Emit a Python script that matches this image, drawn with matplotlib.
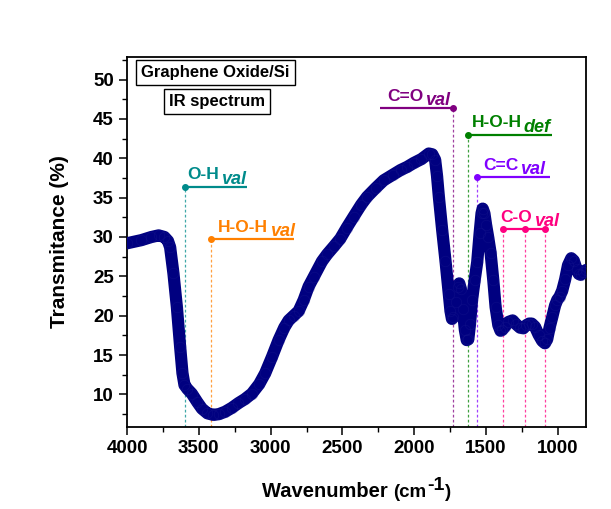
import matplotlib
matplotlib.use("Agg")
import matplotlib.pyplot as plt
from matplotlib.ticker import MultipleLocator

plt.rcParams['font.family'] = ['Liberation Sans', 'DejaVu Sans']
plt.rcParams['font.weight'] = 'bold'

# --- spectrum data (wavenumber cm-1, transmittance %) ---
wavenumber = [4000, 3900, 3830, 3780, 3740, 3715, 3700, 3677, 3653, 3630, 3614,
              3600, 3580, 3549, 3510, 3479, 3440, 3398, 3360, 3317, 3270, 3224,
              3180, 3131, 3080, 3038, 2990, 2945, 2905, 2875, 2840, 2805, 2770,
              2736, 2701, 2643, 2607, 2560, 2515, 2470, 2422, 2370, 2329, 2270,
              2213, 2150, 2096, 2050, 2004, 1950, 1899, 1875, 1855, 1842, 1829,
              1806, 1783, 1760, 1748, 1738, 1728, 1712, 1698, 1687, 1676, 1662,
              1648, 1635, 1624, 1612, 1598, 1580, 1562, 1545, 1532, 1524, 1512,
              1500, 1486, 1469, 1450, 1434, 1415, 1400, 1388, 1370, 1345, 1316,
              1290, 1265, 1241, 1220, 1200, 1183, 1160, 1135, 1110, 1091, 1075,
              1058, 1040, 1020, 1005, 989, 970, 950, 930, 907, 890, 870, 855,
              842, 825, 805]
transmittance = [29.2, 29.6, 30.0, 30.2, 30.0, 29.5, 28.7, 25.4, 21.1, 16.0, 12.7,
                 11.2, 10.7, 10.1, 9.0, 8.2, 7.6, 7.4, 7.5, 7.8, 8.3, 8.9,
                 9.4, 10.1, 11.3, 12.7, 14.8, 16.9, 18.5, 19.4, 20.0, 20.6, 22.0,
                 23.7, 24.9, 26.9, 27.8, 28.8, 29.8, 31.2, 32.6, 34.1, 35.1, 36.2,
                 37.2, 37.9, 38.5, 38.9, 39.4, 39.9, 40.6, 40.5, 39.8, 37.8, 35.1,
                 30.9, 27.0, 22.8, 20.6, 19.6, 19.8, 21.8, 23.6, 24.1, 23.4, 20.8,
                 18.2, 16.9, 17.0, 19.0, 22.0, 24.5, 26.8, 30.5, 33.0, 33.6, 33.0,
                 31.5, 30.0, 28.0, 24.5, 21.1, 18.8, 18.1, 18.2, 18.6, 19.2, 19.4,
                 18.9, 18.5, 18.4, 18.8, 19.0, 19.0, 18.6, 17.6, 16.8, 16.5, 17.0,
                 18.5, 19.8, 21.3, 22.0, 22.4, 23.2, 24.6, 26.4, 27.3, 27.0, 25.9,
                 25.3, 25.2, 25.5, 25.8]

# --- band annotations ---
band_names = ['O-H', 'H-O-H', 'C=O', 'H-O-H', 'C=C', 'C-O']
band_subs = ['val', 'val', 'val', 'def', 'val', 'val']
band_positions = [[3596], [3414], [1729], [1624], [1562], [1383, 1232, 1087]]
band_levels = [36.4, 29.7, 46.4, 43.0, 37.6, 31.0]
band_line_ends = [3165, 2835, 2236, 1043, 1057, 1087]
band_colors = ['#008B8B', '#FF8000', '#800080', '#008000', '#8000FF', '#FF0080']
label_x = [3582, 3365, 2190, 1599, 1522, 1404]

x_ticks = [4000, 3500, 3000, 2500, 2000, 1500, 1000]
y_ticks = [10, 15, 20, 25, 30, 35, 40, 45, 50]

fig = plt.figure(figsize=(6.11, 5.09), dpi=100)
ax = fig.add_axes([0.2079, 0.1617, 0.7511, 0.7269])

ymin, ymax = 5.9, 52.9
ax.set_xlim(4000, 805)
ax.set_ylim(ymin, ymax)

for name, sub, pos, lev, end, col, lx in zip(band_names, band_subs, band_positions,
                                            band_levels, band_line_ends, band_colors, label_x):
    for p in pos:
        ax.plot([p, p], [ymin, lev], color=col, lw=0.9, ls=(0, (2.2, 1.8)), alpha=0.75, zorder=1)
    xs = [min(pos + [end]), max(pos + [end])]
    ax.plot(xs, [lev, lev], color=col, lw=1.6, solid_capstyle='butt', zorder=2)
    ax.plot(pos, [lev] * len(pos), 'o', color=col, ms=4, zorder=3)
    t = ax.annotate(name, xy=(lx, lev), xycoords='data', xytext=(0, 3),
                    textcoords='offset points', ha='left', va='bottom',
                    fontsize=12.5, fontweight='bold', color=col)
    ax.annotate(sub, xy=(1, 0), xycoords=t, xytext=(1.5, -3.8),
                textcoords='offset points', ha='left', va='bottom',
                fontsize=13, fontweight='bold', fontstyle='italic', color=col)

ax.plot(wavenumber, transmittance, color='#000080', lw=8.8,
        solid_capstyle='round', solid_joinstyle='round', zorder=4)
ax.plot(wavenumber, transmittance, 'o', mfc='none', mec='#1a1a90', ms=7.5,
        mew=0.6, alpha=0.35, zorder=5)

ax.set_xticks(x_ticks)
ax.set_yticks(y_ticks)
ax.xaxis.set_minor_locator(MultipleLocator(250))
ax.yaxis.set_minor_locator(MultipleLocator(2.5))
ax.tick_params(which='major', direction='out', length=6, width=1.1,
               labelsize=13.5, top=False, right=False)
ax.tick_params(which='minor', direction='out', length=3.5, width=1.0,
               top=False, right=False)
for lab in ax.get_xticklabels() + ax.get_yticklabels():
    lab.set_fontweight('bold')
for s in ax.spines.values():
    s.set_linewidth(1.3)

ax.set_ylabel('Transmitance (%)', fontsize=15, fontweight='bold', labelpad=17)

# x label built from pieces: "Wavenumber (cm" + superscript "-1" + ")"
t1 = fig.text(261.7 / 611, 11.7 / 509, 'Wavenumber ', ha='left', va='baseline',
              fontsize=14.5, fontweight='bold')
t2 = ax.annotate('(cm', xy=(1, 0), xycoords=t1, xytext=(0, 0.5),
                 textcoords='offset points', ha='left', va='bottom',
                 fontsize=13.5, fontweight='bold', annotation_clip=False)
t3 = ax.annotate('-1', xy=(1, 0), xycoords=t2, xytext=(0.5, 5),
                 textcoords='offset points', ha='left', va='bottom',
                 fontsize=14, fontweight='bold', annotation_clip=False)
ax.annotate(')', xy=(1, 0), xycoords=t3, xytext=(0.3, -5),
            textcoords='offset points', ha='left', va='bottom',
            fontsize=13.5, fontweight='bold', annotation_clip=False)

box = dict(boxstyle='square,pad=0.3', fc='white', ec='black', lw=1.0)
ax.text(0.193, 0.956, 'Graphene Oxide/Si', transform=ax.transAxes, ha='center',
        va='center', fontsize=12, fontweight='bold', bbox=box, zorder=6)
ax.text(0.195, 0.880, 'IR spectrum', transform=ax.transAxes, ha='center',
        va='center', fontsize=12, fontweight='bold', bbox=box, zorder=6)

fig.savefig('out.png', dpi=100, facecolor='white')
